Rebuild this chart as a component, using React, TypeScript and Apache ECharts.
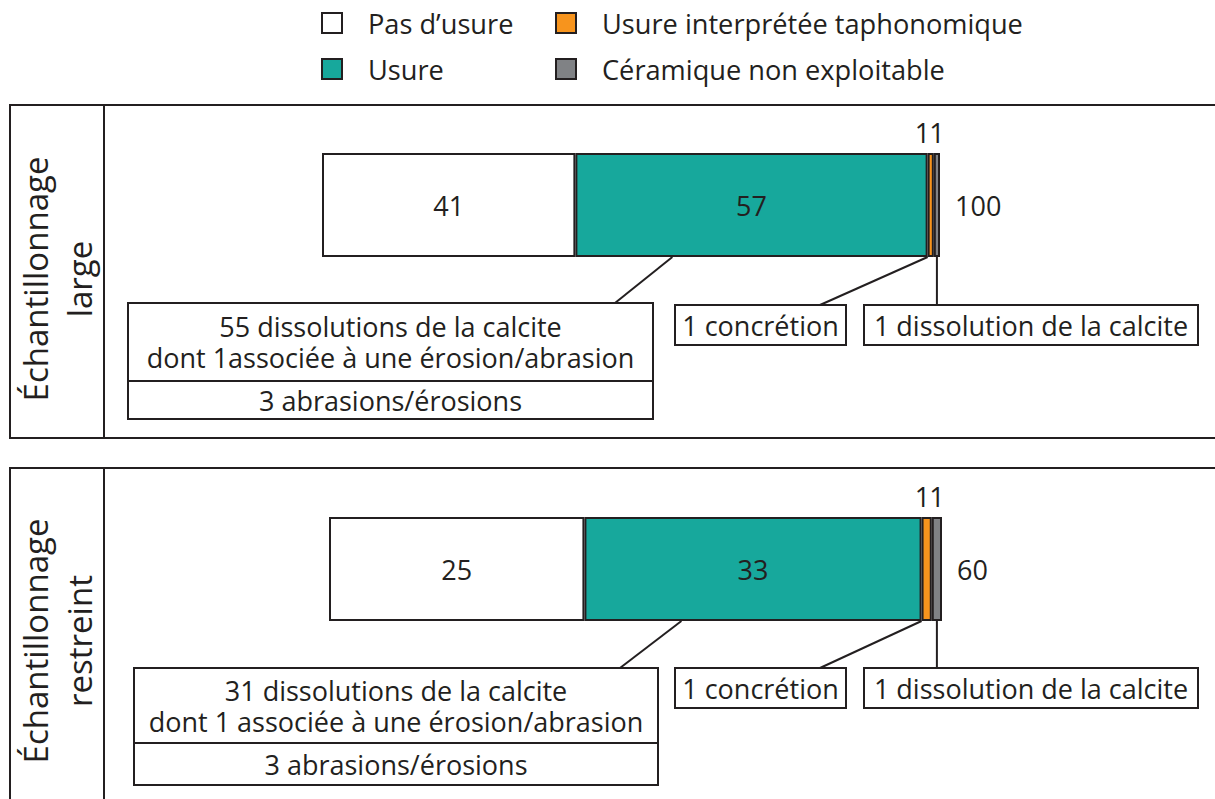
import React, { useEffect, useRef } from "react";
import * as echarts from "echarts";

const categories = [
  "Pas d’usure",
  "Usure",
  "Usure interprétée taphonomique",
  "Céramique non exploitable",
];
const colors = ["#ffffff", "#17a89c", "#f7941d", "#808285"];
const largeValues = [41, 57, 1, 1];
const restreintValues = [25, 33, 1, 1];
const panelTitles = ["Échantillonnage\nlarge", "Échantillonnage\nrestreint"];
const usureNotesLarge = [
  "55 dissolutions de la calcite",
  "dont 1associée à une érosion/abrasion",
  "3 abrasions/érosions",
];
const usureNotesRestreint = [
  "31 dissolutions de la calcite",
  "dont 1 associée à une érosion/abrasion",
  "3 abrasions/érosions",
];
const taphoNote = "1 concrétion";
const ceramNote = "1 dissolution de la calcite";

const FONT = "'Open Sans', 'Noto Sans', sans-serif";
const INK = "#231f20";
const FS = 27;

const panels = [
  {
    values: largeValues,
    notes: usureNotesLarge,
    title: panelTitles[0],
    grid: { left: 322, top: 153, width: 618, height: 104 },
    frame: { top: 105, bottom: 438 },
    titleY: 279,
    boxA: { x: 128, y: 303, w: 525, h1: 78, h2: 38 },
    boxTop: 305,
  },
  {
    values: restreintValues,
    notes: usureNotesRestreint,
    title: panelTitles[1],
    grid: { left: 329, top: 517, width: 613, height: 104 },
    frame: { top: 468, bottom: 810 },
    titleY: 641,
    boxA: { x: 134, y: 668, w: 524, h1: 75, h2: 42 },
    boxTop: 668,
  },
];

const sum = (a: number[]) => a.reduce((s, v) => s + v, 0);

export default function App() {
  const ref = useRef<HTMLDivElement>(null);
  useEffect(() => {
    if (!ref.current) return;
    const chart = echarts.init(ref.current, null, { renderer: "svg" });

    const series: any[] = [];
    panels.forEach((p, pi) => {
      const total = sum(p.values);
      const scale = (v: number) => p.grid.left + (v / total) * p.grid.width;
      const cum = (i: number) => sum(p.values.slice(0, i));
      const grayMid = scale(cum(3) + p.values[3] / 2);
      const orangeMid = scale(cum(2) + p.values[2] / 2);
      p.values.forEach((v, i) => {
        let offset = [0, 0];
        if (i === 2) offset = [grayMid - 14.5 - orangeMid, 0];
        series.push({
          type: "bar",
          name: categories[i],
          stack: "p" + pi,
          xAxisIndex: pi,
          yAxisIndex: pi,
          data: [v],
          barWidth: p.grid.height,
          itemStyle: { color: colors[i], borderColor: INK, borderWidth: 2 },
          label: {
            show: true,
            position: i < 2 ? "inside" : "top",
            distance: 6,
            offset,
            fontSize: FS,
            lineHeight: 30,
            fontFamily: FONT,
            color: INK,
          },
        });
      });
      series.push({
        type: "bar",
        name: "Total",
        stack: "p" + pi,
        xAxisIndex: pi,
        yAxisIndex: pi,
        data: [0],
        barWidth: p.grid.height,
        silent: true,
        itemStyle: { color: "transparent", borderWidth: 0 },
        label: {
          show: true,
          position: "right",
          distance: 15,
          fontSize: FS,
          fontFamily: FONT,
          color: INK,
          formatter: () => String(total),
        },
      });
    });

    const legendCommon = {
      orient: "vertical",
      top: 8,
      padding: 0,
      itemWidth: 20,
      itemHeight: 20,
      itemGap: 16,
      icon: "rect",
      selectedMode: false,
      itemStyle: { borderColor: INK, borderWidth: 2 },
      textStyle: {
        fontSize: 27.2,
        fontFamily: FONT,
        color: INK,
        lineHeight: 30,
        padding: [0, 0, 0, 21],
      },
    };

    chart.setOption({
      animation: false,
      backgroundColor: "#ffffff",
      legend: [
        { ...legendCommon, left: 321, data: [categories[0], categories[1]] },
        { ...legendCommon, left: 555, data: [categories[2], categories[3]] },
      ],
      grid: panels.map((p) => ({ ...p.grid, containLabel: false })),
      xAxis: panels.map((p, pi) => ({
        type: "value",
        gridIndex: pi,
        min: 0,
        max: sum(p.values),
        show: false,
      })),
      yAxis: panels.map((p, pi) => ({
        type: "category",
        gridIndex: pi,
        data: [""],
        show: false,
      })),
      series,
    });

    const graphics: any[] = [];
    const lineStyle = { stroke: INK, lineWidth: 2 };
    const boxStyle = { fill: "#ffffff", stroke: INK, lineWidth: 2 };
    const txt = (x: number, y: number, text: string) => ({
      type: "text",
      x,
      y,
      style: {
        text,
        fontSize: FS,
        fontFamily: FONT,
        fill: INK,
        align: "center",
        verticalAlign: "middle",
        lineHeight: 30,
      },
    });

    panels.forEach((p, pi) => {
      const bottom = p.grid.top + p.grid.height;
      const px = (v: number) =>
        chart.convertToPixel({ xAxisIndex: pi } as any, v) as unknown as number;
      const tealStart = px(p.values[0]);
      const orangeStart = px(p.values[0] + p.values[1]);
      const grayMid = px(p.values[0] + p.values[1] + p.values[2] + p.values[3] / 2);

      // frame
      graphics.push({
        type: "rect",
        shape: { x: 10, y: p.frame.top, width: 1230, height: p.frame.bottom - p.frame.top },
        style: { fill: "none", ...lineStyle },
      });
      graphics.push({
        type: "line",
        shape: { x1: 104, y1: p.frame.top, x2: 104, y2: p.frame.bottom },
        style: lineStyle,
      });
      graphics.push({
        type: "text",
        x: 57,
        y: p.titleY,
        rotation: Math.PI / 2,
        style: {
          text: p.title,
          fontSize: 33,
          fontFamily: FONT,
          fill: INK,
          align: "center",
          verticalAlign: "middle",
          lineHeight: 44,
        },
      });

      // connectors
      const b = p.boxA;
      graphics.push({
        type: "line",
        shape: { x1: tealStart + 97, y1: bottom, x2: b.x + b.w - 38, y2: b.y },
        style: lineStyle,
      });
      graphics.push({
        type: "line",
        shape: { x1: orangeStart, y1: bottom, x2: 820, y2: p.boxTop },
        style: lineStyle,
      });
      graphics.push({
        type: "line",
        shape: { x1: grayMid, y1: bottom, x2: grayMid, y2: p.boxTop },
        style: lineStyle,
      });

      // box A
      graphics.push({ type: "rect", shape: { x: b.x, y: b.y, width: b.w, height: b.h1 }, style: boxStyle });
      graphics.push({ type: "rect", shape: { x: b.x, y: b.y + b.h1, width: b.w, height: b.h2 }, style: boxStyle });
      graphics.push(txt(b.x + b.w / 2, b.y + b.h1 / 2 - 15.5, p.notes[0]));
      graphics.push(txt(b.x + b.w / 2, b.y + b.h1 / 2 + 15.5, p.notes[1]));
      graphics.push(txt(b.x + b.w / 2, b.y + b.h1 + b.h2 / 2, p.notes[2]));

      // box B & C
      graphics.push({ type: "rect", shape: { x: 675, y: p.boxTop, width: 171, height: 40 }, style: boxStyle });
      graphics.push(txt(675 + 171 / 2, p.boxTop + 20, taphoNote));
      graphics.push({ type: "rect", shape: { x: 864, y: p.boxTop, width: 334, height: 40 }, style: boxStyle });
      graphics.push(txt(864 + 334 / 2, p.boxTop + 20, ceramNote));
    });

    chart.setOption({ graphic: graphics });

    return () => chart.dispose();
  }, []);

  return (
    <div
      ref={ref}
      style={{ position: "fixed", left: 0, top: 0, width: 1215, height: 799, background: "#fff" }}
    />
  );
}
